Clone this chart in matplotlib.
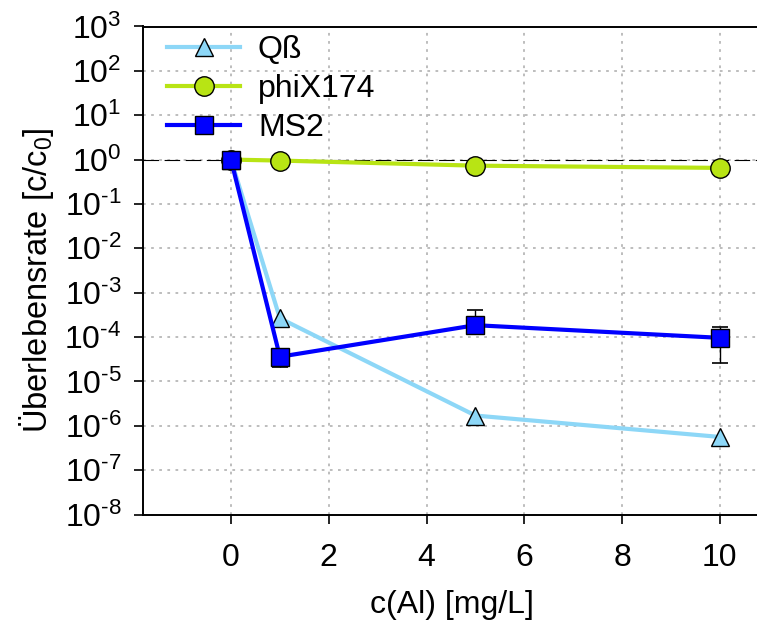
import matplotlib
matplotlib.use("Agg")
import matplotlib.pyplot as plt
import numpy as np
from matplotlib.ticker import FixedLocator, NullLocator, FuncFormatter

plt.rcParams['font.family'] = ['Liberation Sans', 'DejaVu Sans']
plt.rcParams['mathtext.fontset'] = 'custom'
plt.rcParams['mathtext.rm'] = 'Liberation Sans'
plt.rcParams['mathtext.it'] = 'Liberation Sans:italic'

# Data
conc = [0, 1, 5, 10]
qbeta = [1.0, 2.65e-4, 1.7e-6, 5.6e-7]
phix = [1.0, 0.95, 0.73, 0.65]
ms2 = [1.0, 3.6e-5, 1.85e-4, 9.6e-5]
ms2_err_low = [0.0, 1.45e-5, 0.0, 7.0e-5]
ms2_err_high = [0.0, 0.0, 2.25e-4, 7.0e-5]
series_labels = ['Qß', 'phiX174', 'MS2']
xticks = [0, 2, 4, 6, 8, 10]
yexps = list(range(-8, 4))

W, H = 757, 621
fig = plt.figure(figsize=(W/100, H/100), dpi=100)
ax_l, ax_t, ax_b = 143, 26.5, 514.5
ax = fig.add_axes([ax_l/W, 1-ax_b/H, 1-ax_l/W, (ax_b-ax_t)/H])

col_q = '#8dd7f7'
col_p = '#b8e414'
col_m = '#0000ff'

ax.axhline(1.0, color='black', lw=0.8, ls=(0, (14, 5)), zorder=1.5)

ax.plot(conc, qbeta, color=col_q, lw=3, marker='^', ms=13.5, mfc=col_q, mec='black', mew=1.0,
        label=series_labels[0], zorder=3)
ax.plot(conc, phix, color=col_p, lw=3, marker='o', ms=14, mfc=col_p, mec='black', mew=1.0,
        label=series_labels[1], zorder=3)
ax.errorbar(conc, ms2, yerr=[ms2_err_low, ms2_err_high], fmt='none', ecolor='black',
            elinewidth=1.0, capsize=5.5, capthick=1.2, zorder=2.5)
ax.plot(conc, ms2, color=col_m, lw=3, marker='s', ms=13, mfc=col_m, mec='black', mew=1.0,
        label=series_labels[2], zorder=4)

ax.set_yscale('log')
ax.set_ylim(1e-8, 1e3)
ax.set_xlim(-1.8, 10.76)
ax.yaxis.set_major_locator(FixedLocator([10.0**e for e in yexps]))
ax.yaxis.set_minor_locator(NullLocator())


def fmt_pow(v, p):
    e = int(round(np.log10(v)))
    if e < 0:
        return r'$\mathregular{10^{\text{-}%d}}$' % (-e)
    return r'$\mathregular{10^{%d}}$' % e


ax.yaxis.set_major_formatter(FuncFormatter(fmt_pow))
ax.set_xticks(xticks)
ax.set_xticklabels([str(t) for t in xticks])

ax.grid(True, color='#b8b8b8', ls=(0, (1.5, 3)), lw=1.3)
ax.set_axisbelow(True)

ax.spines['right'].set_visible(False)
for s in ['top', 'left', 'bottom']:
    ax.spines[s].set_linewidth(1.4)

ax.tick_params(axis='both', direction='out', length=6.5, width=1.2, labelsize=23)
ax.tick_params(axis='x', pad=14)
ax.tick_params(axis='y', pad=9)

fig.text(452/W, 1-605/H, 'c(Al) [mg/L]', fontsize=23, ha='center', va='center')
fig.text(37/W, 1-280/H, r'Überlebensrate [c/c$\mathregular{_0}$]', fontsize=23.5,
         ha='center', va='center', rotation=90)

leg = ax.legend(loc='upper left', frameon=False, fontsize=23, handlelength=2.3,
                borderaxespad=0.0, borderpad=0.28, labelspacing=0.28, handletextpad=0.55,
                bbox_to_anchor=((158-ax_l)/(W-ax_l), 1.0))

fig.savefig('out.png', dpi=100)
